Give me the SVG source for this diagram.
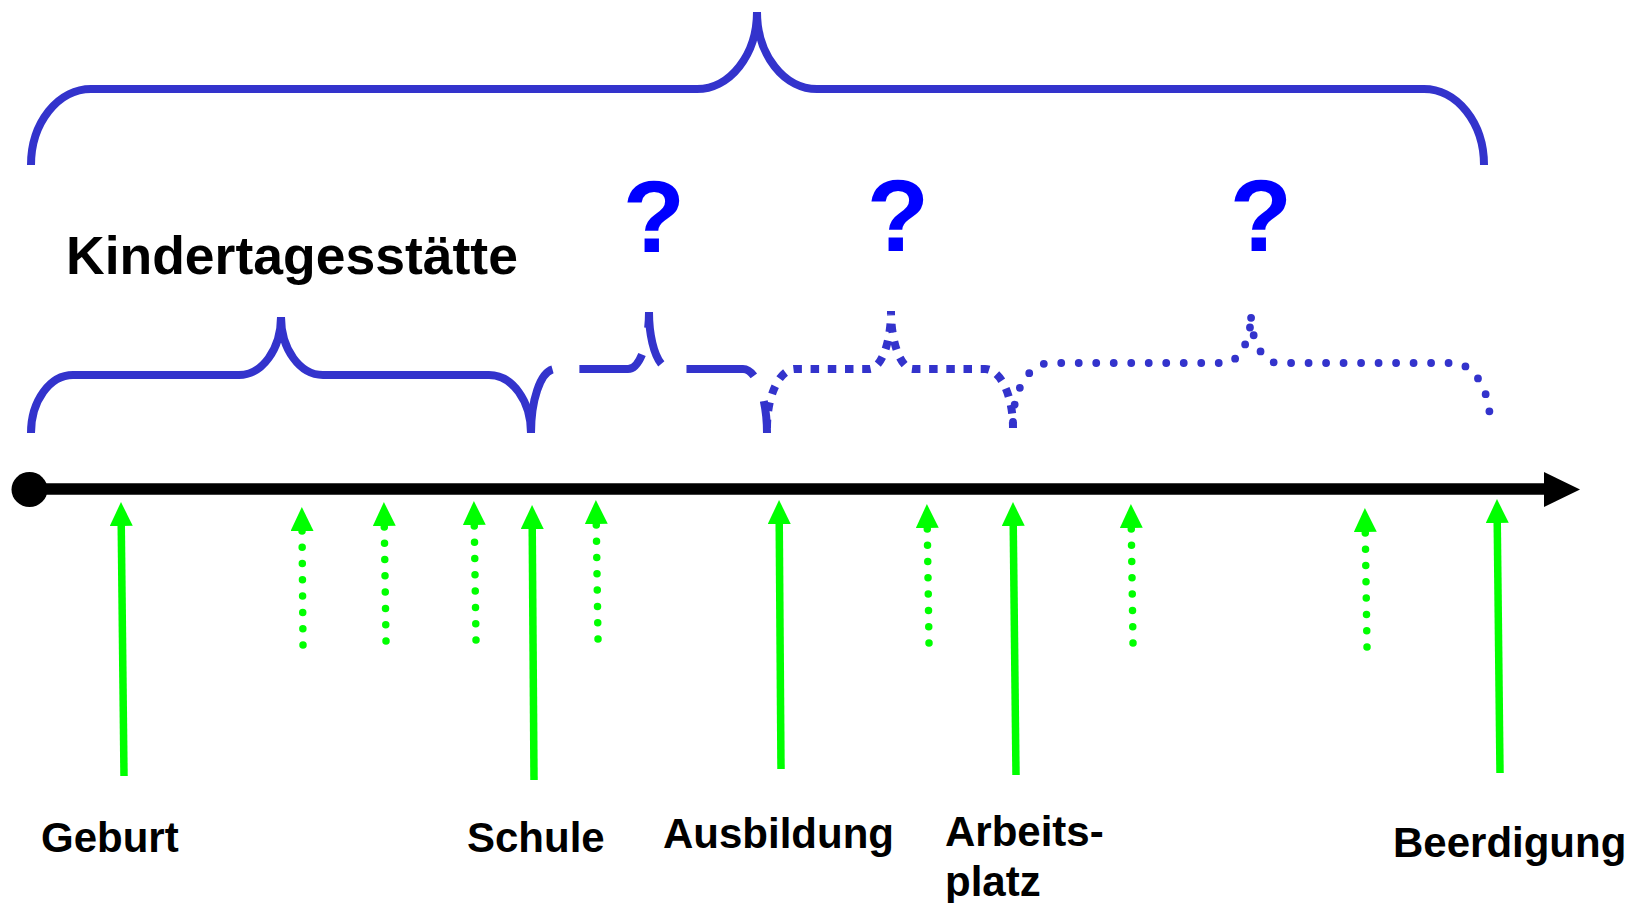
<svg xmlns="http://www.w3.org/2000/svg" width="1643" height="903" viewBox="0 0 1643 903">
  <style>
    .brace { fill: none; stroke: #3333CC; stroke-width: 8; }
    .dash { stroke-dasharray: 70 27; }
    .sq { stroke-dasharray: 8.5 8.7; }
    .rd { stroke-dasharray: 0 17.5; stroke-linecap: round; stroke-width: 7.8; }
    .arr { stroke: #00FF00; stroke-width: 7.5; fill: none; marker-end: url(#gh); }
    .dot { stroke-dasharray: 0 16.3; stroke-linecap: round; }
    .lbl { font-family: "Liberation Sans", Arial, sans-serif; font-weight: bold; font-size: 42px; fill: #000; }
    .q { font-family: "Liberation Sans", Arial, sans-serif; font-weight: bold; font-size: 102px; fill: #0000FF; text-anchor: middle; }
  </style>
  <defs>
    <marker id="gh" markerUnits="userSpaceOnUse" markerWidth="24" markerHeight="23" viewBox="0 0 24 23" refX="4" refY="11.5" orient="auto">
      <path d="M0,0 L24,11.5 L0,23 z" fill="#00FF00"/>
    </marker>
  </defs>
  <rect width="1643" height="903" fill="#fff"/>

  <g id="brace-life">
    <path class="brace" d="M31,165 A60,76 0 0 1 91,89 L697,89 A60,77 0 0 0 757,12 A60,77 0 0 0 817,89 L1424,89 A60,76 0 0 1 1484,165"/>
  </g>
  <g id="brace-kita">
    <path class="brace" d="M31,433 A42,58 0 0 1 73,375 L239,375 A42,58 0 0 0 281,317 A42,58 0 0 0 323,375 L489,375 A42,58 0 0 1 531,433"/>
    <text class="lbl" x="66" y="274" style="font-size:53.5px">Kindertagesstätte</text>
  </g>
  <g id="brace-schule">
    <path class="brace dash" d="M531,433 A24,64 0 0 1 555,369 L628,369 A21,57 0 0 0 649,312 A21,57 0 0 0 670,369 L743,369 A24,64 0 0 1 767,433"/>
    <text class="q" x="654" y="252">?</text>
  </g>
  <g id="brace-ausbildung">
    <path class="brace sq" d="M767,428 A28,59 0 0 1 795,369 L869,369 A22,58 0 0 0 891,311 A22,58 0 0 0 913,369 L985,369 A28,59 0 0 1 1013,428"/>
    <text class="q" x="898" y="251">?</text>
  </g>
  <g id="brace-arbeit">
    <path class="brace rd" d="M1013,422 A37,59 0 0 1 1050,363 L1224,363 A27,49 0 0 0 1251,314 A27,49 0 0 0 1278,363 L1453,363 A37,59 0 0 1 1490,422"/>
    <text class="q" x="1261" y="251">?</text>
  </g>

  <g id="axis">
    <line x1="29" y1="489" x2="1546" y2="489" stroke="#000" stroke-width="11.7"/>
    <polygon points="1544,472 1580,489.5 1544,507" fill="#000"/>
    <ellipse cx="29.5" cy="489.5" rx="18" ry="17.5" fill="#000"/>
  </g>

  <g id="connectors">
    <line class="arr" x1="124" y1="776" x2="121.2" y2="522"/>
    <line class="arr" x1="534" y1="780" x2="532.2" y2="525"/>
    <line class="arr" x1="781" y1="769" x2="779.2" y2="520"/>
    <line class="arr" x1="1016" y1="775" x2="1013.2" y2="522"/>
    <line class="arr" x1="1500" y1="773" x2="1497.2" y2="519"/>
    <line class="arr dot" x1="303" y1="645" x2="302" y2="527"/>
    <line class="arr dot" x1="386" y1="641" x2="384.2" y2="522"/>
    <line class="arr dot" x1="476" y1="640" x2="474.2" y2="521"/>
    <line class="arr dot" x1="598" y1="639" x2="596.2" y2="520"/>
    <line class="arr dot" x1="929" y1="643" x2="927.2" y2="524"/>
    <line class="arr dot" x1="1133" y1="643" x2="1131.2" y2="524"/>
    <line class="arr dot" x1="1367" y1="647" x2="1365.2" y2="528"/>
  </g>

  <g id="labels">
    <text id="geburt" class="lbl" x="41" y="852">Geburt</text>
    <text id="schule" class="lbl" x="467" y="852">Schule</text>
    <text id="ausbildung" class="lbl" x="663" y="848">Ausbildung</text>
    <text id="arbeitsplatz" class="lbl" x="945" y="846">Arbeits-<tspan x="945" dy="50">platz</tspan></text>
    <text id="beerdigung" class="lbl" x="1393" y="857">Beerdigung</text>
  </g>
</svg>
